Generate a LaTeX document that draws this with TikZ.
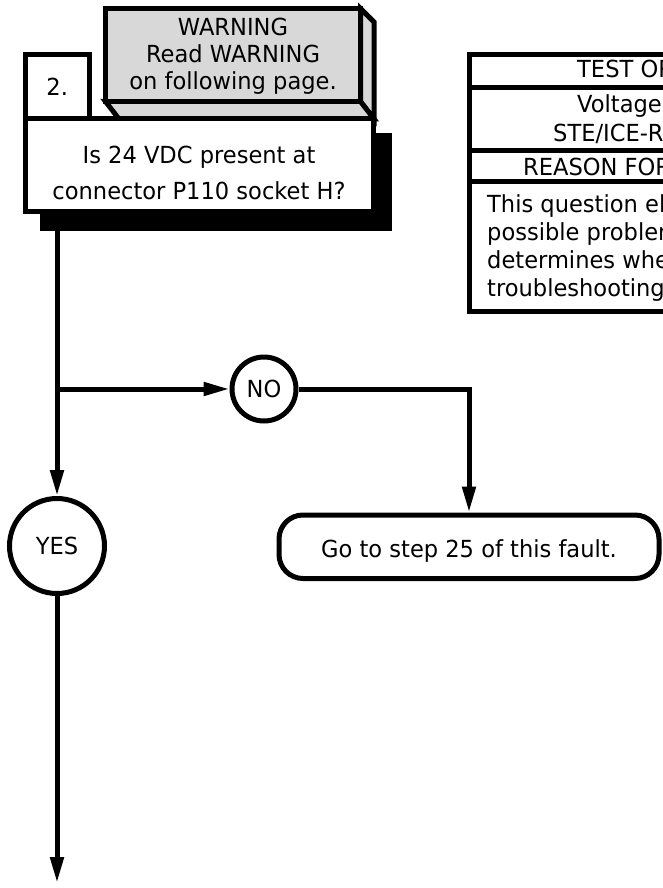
\documentclass[tikz,border=0pt]{standalone}
\usepackage{fontspec}
\setmainfont{DejaVu Sans}[FakeStretch=0.96]
\usetikzlibrary{arrows.meta}
\definecolor{warnfill}{RGB}{216,216,216}

\begin{document}
\begin{tikzpicture}[x=1pt,y=-1pt,
  every node/.style={font=\fontsize{23.5}{28}\selectfont, inner sep=0pt},
  heavy/.style={line width=5pt},
  boxed/.style={heavy, draw=black, fill=white},
  answer/.style={boxed, circle},
  flow/.style={heavy, -{Triangle[length=26pt,width=13pt]}},
  cell/.style={anchor=base west}
]
\useasboundingbox (0,0) rectangle (663,888);

% drop shadow of the question box
\fill[black] (39.5,132.5) rectangle (392,231);

% warning tag with its depth faces
\draw[heavy, fill=warnfill, line join=miter] (360.5,8.5) -- (374,22) -- (374,119) -- (360.5,101.5) -- cycle;
\draw[heavy, fill=warnfill, line join=miter] (105.5,101.5) -- (360.5,101.5) -- (374,119) -- (119,119) -- cycle;
\node (warn) [boxed, fill=warnfill, minimum width=255, minimum height=93] at (233,55) {};
\node (warntext) [align=center, font=\fontsize{23.5}{27}\selectfont] at (233,56.2)
  {WARNING\\Read WARNING\\on following page.};

% question box and step number
\node (q) [boxed, minimum width=348.5, minimum height=92] at (199.25,165) {};
\node (qtext) [align=center, font=\fontsize{23.5}{36}\selectfont] at (199,172.5)
  {Is 24 VDC present at\\connector P110 socket H?};
\node (stepno) [boxed, minimum width=64.5, minimum height=64] at (57.25,87) {2.};

% answers and outcome
\node (no)  [answer, minimum size=64] at (264,389) {NO};
\node (yes) [answer, minimum size=95] at (57,546) {YES};
\node (go)  [boxed, rounded corners=24pt, minimum width=380, minimum height=63.5,
             text height=21pt, text depth=0pt] at (469,546.75) {Go to step 25 of this fault.};

\coordinate (split) at (57,389);
\coordinate (out) at (57,883);

% connectors
\draw[flow] (q.south -| yes.north) -- (yes.north);
\draw[flow] (split) -- (no);
\draw[flow] (no.east) -| (go.north);
\draw[flow] (yes.south) -- (out);

% test / reason table running off the right edge
\begin{scope}
  \clip (0,0) rectangle (663,888);
  \draw[heavy] (469.5,54.5) rectangle (700,311);
  \draw[heavy] (469.5,88) -- (700,88);
  \draw[heavy] (469.5,150.5) -- (700,150.5);
  \draw[heavy] (469.5,181.5) -- (700,181.5);
  \node (testhead)   [cell] at (577,78)  {TEST OR};
  \node (voltage)    [cell] at (577,113) {Voltage};
  \node (steice)     [cell] at (553,142) {STE/ICE-R};
  \node (reasonhead) [cell] at (523,175) {REASON FOR};
  \node (reasonbody) [anchor=north west, align=left] at (487,194)
    {This question eli\\possible problem\\determines wher\\troubleshooting};
\end{scope}
\end{tikzpicture}
\end{document}
